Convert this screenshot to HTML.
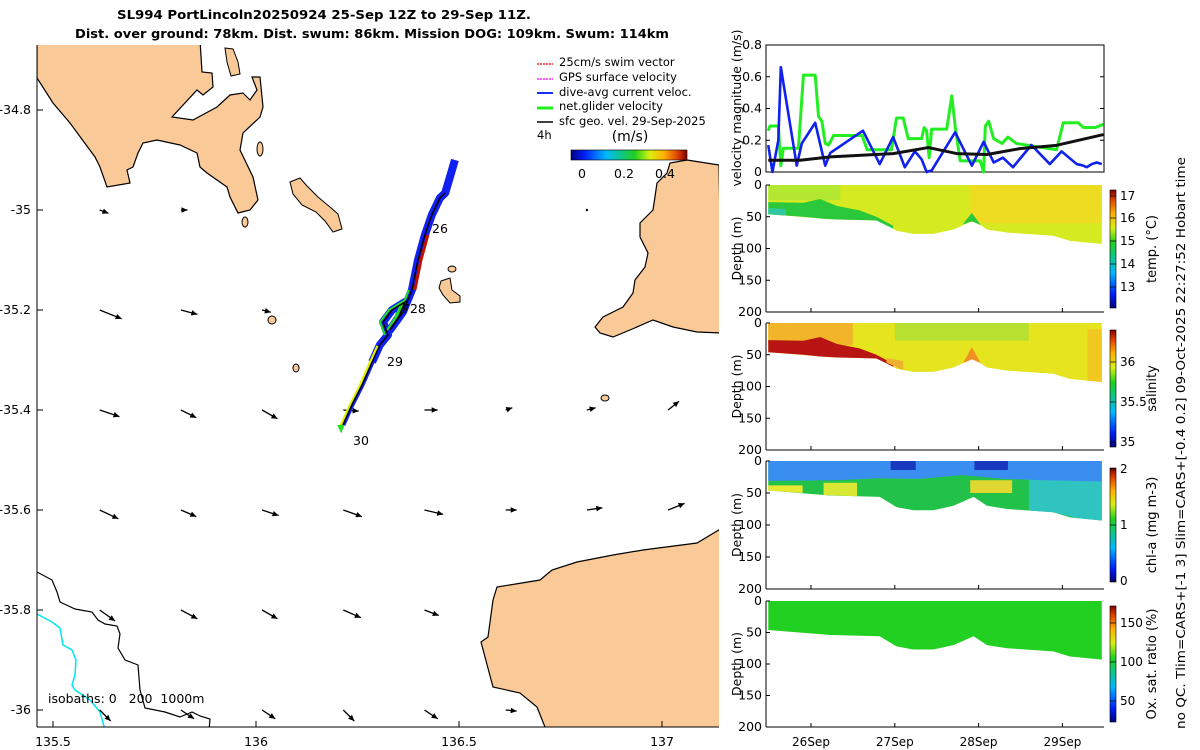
<!DOCTYPE html>
<html><head><meta charset="utf-8"><title>SL994 glider</title>
<style>
html,body{margin:0;padding:0;background:#fff;}
svg{display:block;font-family:"DejaVu Sans","Liberation Sans",sans-serif;}
text{fill:#000;}
.pre{white-space:pre;}
</style></head>
<body>
<svg id="root" width="1200" height="750" viewBox="0 0 1200 750" xmlns="http://www.w3.org/2000/svg">
<defs>
<linearGradient id="jetV" x1="0" y1="1" x2="0" y2="0">
<stop offset="0" stop-color="#00007f"/><stop offset="0.12" stop-color="#0020ff"/><stop offset="0.3" stop-color="#00b8ff"/><stop offset="0.45" stop-color="#10c878"/><stop offset="0.55" stop-color="#20d020"/><stop offset="0.68" stop-color="#d8f010"/><stop offset="0.8" stop-color="#ffb000"/><stop offset="0.92" stop-color="#e04000"/><stop offset="1" stop-color="#800000"/>
</linearGradient>
<linearGradient id="jetH" x1="0" y1="0" x2="1" y2="0">
<stop offset="0" stop-color="#00007f"/><stop offset="0.12" stop-color="#0020ff"/><stop offset="0.3" stop-color="#00b8ff"/><stop offset="0.45" stop-color="#10c878"/><stop offset="0.55" stop-color="#20d020"/><stop offset="0.68" stop-color="#d8f010"/><stop offset="0.8" stop-color="#ffb000"/><stop offset="0.92" stop-color="#e04000"/><stop offset="1" stop-color="#800000"/>
</linearGradient>
<clipPath id="mapclip"><rect x="37" y="45" width="682" height="682"/></clipPath>
</defs>

<text x="324" y="19" text-anchor="middle" font-weight="bold" font-size="12.5" textLength="414" lengthAdjust="spacingAndGlyphs">SL994 PortLincoln20250924 25-Sep 12Z to 29-Sep 11Z.</text>
<text x="372" y="38" text-anchor="middle" font-weight="bold" font-size="12.5" textLength="594" lengthAdjust="spacingAndGlyphs">Dist. over ground: 78km. Dist. swum: 86km. Mission DOG: 109km. Swum: 114km</text>

<g id="map">
<g clip-path="url(#mapclip)">
<path fill="#fac998" fill-rule="nonzero" stroke="#000" stroke-width="1.2" d="M37,40 L200,40 L202,72 L212,73 L213,87 L203,95 L197,90 L172,117 L193,120 L217,107 L230,95 L243,93 L250,100 L257,90 L252,77 L260,77 L263,107 L260,117 L243,133 L240,150 L253,177 L258,200 L250,210 L238,213 L230,197 L227,187 L207,173 L200,167 L197,153 L180,145 L157,140 L143,143 L138,153 L133,167 L127,170 L130,183 L107,187 L100,167 L95,157 L70,123 L53,103 L37,78 Z"/>
<path fill="#fac998" stroke="#000" d="M225,48 L233,49 L238,62 L240,74 L231,76 L227,62 Z"/>
<path fill="#fac998" stroke="#000" d="M290,182 L300,178 L307,186 L318,197 L330,207 L338,214 L342,229 L333,232 L325,221 L316,212 L302,205 L293,194 Z"/>
<ellipse cx="260" cy="149" rx="3" ry="7" fill="#fac998" stroke="#000"/>
<ellipse cx="245" cy="222" rx="3" ry="5" fill="#fac998" stroke="#000"/>
<ellipse cx="452" cy="269" rx="4" ry="3" fill="#fac998" stroke="#000"/>
<path fill="#fac998" stroke="#000" d="M441,281 L450,278 L452,290 L460,296 L460,302 L450,303 L443,295 L439,288 Z"/>
<ellipse cx="272" cy="320" rx="4" ry="4" fill="#fac998" stroke="#000"/>
<ellipse cx="296" cy="368" rx="3" ry="4" fill="#fac998" stroke="#000"/>
<ellipse cx="605" cy="398" rx="4" ry="3" fill="#fac998" stroke="#000"/>
<path fill="#fac998" stroke="#000" stroke-width="1.2" d="M687,160 L719,165 L722,333 L697,332 L673,327 L653,320 L630,330 L613,337 L600,333 L595,327 L603,317 L623,307 L633,293 L635,280 L645,267 L648,253 L640,237 L640,223 L653,210 L657,183 L667,173 L670,163 Z"/>
<path fill="#fac998" stroke="#000" stroke-width="1.2" d="M722,528 L697,543 L643,550 L613,555 L577,562 L552,570 L540,580 L497,587 L493,600 L488,637 L481,642 L493,687 L520,693 L537,707 L547,732 L722,732 Z"/>
<polyline fill="none" stroke="#000" stroke-width="1.2" points="37,572 52,580 57,592 60,602 75,609 92,612 98,620 105,624 117,626 120,634 118,648 125,660 138,665 140,690 145,708 165,712 180,717 192,712 200,716 210,719 209,730"/>
<polyline fill="none" stroke="#00e5ee" stroke-width="1.5" points="37,614 52,622 60,628 63,645 72,650 76,660 75,675 72,685 75,690 90,700 100,712 105,730"/>
<g id="arrows"></g>
<g id="track"></g>
</g>
<line x1="37" y1="45" x2="37" y2="727" stroke="#000"/>
<line x1="37" y1="727" x2="719" y2="727" stroke="#000"/>
<g id="mapticks" font-size="12.5"></g>
<text class="pre" xml:space="preserve" x="48" y="703" font-size="12.5">isobaths: 0   200  1000m</text>
<text x="432" y="233" font-size="12.5">26</text>
<text x="402" y="313" font-size="12.5">728</text>
<text x="387" y="366" font-size="12.5">29</text>
<text x="353" y="445" font-size="12.5">30</text>
<g font-size="11.5">
<line x1="537" y1="64" x2="553" y2="64" stroke="#ff2020" stroke-width="1.5" stroke-dasharray="2,1"/><text x="559" y="66">25cm/s swim vector</text>
<line x1="537" y1="79" x2="553" y2="79" stroke="#ff20ff" stroke-width="1.5" stroke-dasharray="2,1"/><text x="559" y="81">GPS surface velocity</text>
<line x1="537" y1="93" x2="553" y2="93" stroke="#1030ff" stroke-width="2"/><text x="559" y="96">dive-avg current veloc.</text>
<line x1="537" y1="108" x2="553" y2="108" stroke="#20f020" stroke-width="3"/><text x="559" y="110">net.glider velocity</text>
<line x1="537" y1="122" x2="553" y2="122" stroke="#000" stroke-width="1.5"/><text x="559" y="125">sfc geo. vel. 29-Sep-2025</text>
<text x="537" y="139">4h</text>
</g>
<text x="630" y="141" text-anchor="middle" font-size="14">(m/s)</text>
<rect x="571" y="150" width="116" height="10" fill="url(#jetH)" stroke="#000" stroke-width="0.6"/>
<g font-size="12.5" text-anchor="middle">
<text x="582" y="178">0</text><text x="624" y="178">0.2</text><text x="665" y="178">0.4</text>
</g>
</g>

<g id="vel"></g>
<g id="sections"></g>

<text transform="translate(1185,443) rotate(-90)" text-anchor="middle" font-size="12" textLength="572" lengthAdjust="spacingAndGlyphs">no QC. Tlim=CARS+[-1 3] Slim=CARS+[-0.4 0.2] 09-Oct-2025 22:27:52 Hobart time</text>
</svg>

<script>
// ===== velocity chart data =====
const greenT = [-0.51,-0.49,-0.39,-0.36,-0.33,-0.15,-0.09,0.05,0.09,0.13,0.17,0.21,0.27,0.61,0.67,0.96,1.02,1.10,1.16,1.32,1.35,1.38,1.41,1.44,1.62,1.68,1.72,1.78,2.02,2.06,2.08,2.12,2.18,2.28,2.35,2.45,2.93,3.01,3.19,3.25,3.39,3.49];
const greenV = [0.26,0.29,0.29,0.04,0.15,0.15,0.61,0.61,0.35,0.32,0.18,0.17,0.23,0.23,0.14,0.14,0.34,0.34,0.21,0.21,0.28,0.26,0.09,0.27,0.27,0.48,0.29,0.07,0.07,0.0,0.29,0.32,0.21,0.18,0.22,0.18,0.14,0.31,0.31,0.28,0.28,0.30];
const blueT = [-0.51,-0.46,-0.39,-0.36,-0.17,-0.11,0.05,0.17,0.23,0.62,0.82,0.98,1.12,1.24,1.32,1.38,1.44,1.72,1.92,2.06,2.18,2.29,2.41,2.63,2.85,2.99,3.17,3.25,3.29,3.35,3.41,3.47];
const blueV = [0.17,0.0,0.20,0.66,0.04,0.18,0.31,0.04,0.12,0.26,0.05,0.22,0.03,0.13,0.08,0.0,0.01,0.25,0.04,0.19,0.06,0.09,0.03,0.17,0.05,0.13,0.05,0.04,0.03,0.05,0.06,0.05];
const blackT = [-0.51,-0.13,0.23,0.98,1.40,1.74,2.10,2.49,2.93,3.49];
const blackV = [0.074,0.074,0.095,0.116,0.154,0.116,0.11,0.147,0.168,0.236];
const velTicks = [0,0.2,0.4,0.6,0.8];
const dayTicks = [0,1,2,3];
const dayLabels = ["26Sep","27Sep","28Sep","29Sep"];

// ===== section data =====
const profT = [-0.51,0.23,0.82,1.02,1.22,1.46,1.70,1.94,2.10,2.34,2.89,3.09,3.47];
const profBottom = [46,54,56,72,77,77,70,56,70,75,80,88,93];
const layerT = [-0.51,-0.09,0.11,0.31,0.58,0.78,0.98];
const layerTop = [27,28,22,33,40,50,64];
const layerBot = [46,50,54,55,56,58,71];
const bumpT = [1.82,1.92,2.02];
const bumpTop = [60,44,62];
const bumpBot = [62,58,64];
const chlBlueT = [-0.51,0.3,0.8,1.3,1.8,2.3,2.8,3.47];
const chlBlueBot = [31,30,27,28,22,28,30,32];
const depthTicks = [0,50,100,150,200];

// ===== map data =====
const arrowLon = [135.615,135.815,136.015,136.215,136.415,136.615,136.815,137.015];
const arrowLat = [-35.0,-35.2,-35.4,-35.6,-35.8,-36.0];
const arrowU = [
 [0.08,0.06,0,0,0,0,0.01,0],
 [0.20,0.15,0.08,0,0,0,0,0],
 [0.18,0.14,0.14,0.14,0.12,0.06,0.08,0.10],
 [0.17,0.14,0.15,0.17,0.17,0.10,0.14,0.15],
 [0.14,0.15,0.14,0.16,0.13,0,0,0],
 [0.10,0.12,0.12,0.10,0.12,0.10,0,0]];
const arrowV = [
 [-0.03,0,0,0,0,0,0,0],
 [-0.08,-0.04,-0.02,0,0,0,0,0],
 [-0.06,-0.07,-0.08,-0.01,0,0.02,0.02,0.08],
 [-0.08,-0.06,-0.05,-0.06,-0.04,0,0.02,0.06],
 [-0.10,-0.08,-0.08,-0.07,-0.05,0,0,0],
 [-0.10,-0.08,-0.08,-0.10,-0.08,-0.01,0,0]];
const trackLon = [136.214,136.236,136.261,136.286,136.305,136.325,136.313,136.335,136.367,136.350,136.330,136.362,136.384,136.399,136.416,136.433,136.453,136.466];
const trackLat = [-35.43,-35.39,-35.35,-35.304,-35.27,-35.25,-35.224,-35.20,-35.184,-35.216,-35.24,-35.204,-35.16,-35.10,-35.05,-35.01,-34.976,-34.966];
const lonTicks = [135.5,136,136.5,137];
const latTicks = [-34.8,-35,-35.2,-35.4,-35.6,-35.8,-36];

const NS="http://www.w3.org/2000/svg";
function mk(tag,attrs,parent){const e=document.createElementNS(NS,tag);for(const k in attrs)e.setAttribute(k,attrs[k]);parent.appendChild(e);return e;}

const tx = t => 811 + t*83.8;
const lonX = lon => 256 + (lon-136)*406;
const latY = lat => 210 + (-35-lat)*500;

const mt=document.getElementById('mapticks');
lonTicks.forEach(v=>{const x=lonX(v);
 const l=mk('line',{x1:x,y1:727,x2:x,y2:721,stroke:'#000'},mt);
 
 
 const t=mk('text',{x:x,y:746,'text-anchor':'middle'},mt);t.textContent=String(v);
 
 });
latTicks.forEach(v=>{const y=latY(v);
 const l=mk('line',{x1:37,y1:y,x2:43,y2:y,stroke:'#000'},mt);
 
 
 const t=mk('text',{x:31,y:y+4,'text-anchor':'end'},mt);t.textContent=String(v);
 
 });

const ag=document.getElementById('arrows');
arrowLat.forEach((la,i)=>arrowLon.forEach((lo,j)=>{
 const u=arrowU[i][j], v=arrowV[i][j];
 if(u===0&&v===0) return;
 const x0=lonX(lo), y0=latY(la);
 const x1=x0+u*110, y1=y0-v*110;
 const len=Math.hypot(x1-x0,y1-y0);
 const g=mk('g',{},ag);
 
 
 if(len<1.5){mk('circle',{cx:x0,cy:y0,r:1.2,fill:'#000'},g);return;}
 mk('line',{x1:x0,y1:y0,x2:x1,y2:y1,stroke:'#000','stroke-width':1.3},g);
 const ux=(x1-x0)/len, uy=(y1-y0)/len, h=6, w=2.8;
 mk('polygon',{points:`${x1},${y1} ${x1-ux*h-uy*w},${y1-uy*h+ux*w} ${x1-ux*h+uy*w},${y1-uy*h-ux*w}`,fill:'#000'},g);
}));

const tg=document.getElementById('track');
const pts=(a,b)=>trackLon.slice(a,b).map((lo,i)=>lonX(lo)+','+latY(trackLat[a+i])).join(' ');
let p=mk('polyline',{points:pts(3,18)+' '+lonX(136.49)+','+latY(-34.9),fill:'none',stroke:'#1020f0','stroke-width':8,'stroke-linejoin':'round'},tg);


p=mk('polyline',{points:pts(0,6),fill:'none',stroke:'#1020f0','stroke-width':5},tg);


p=mk('polyline',{points:pts(0,5),fill:'none',stroke:'#e0f000','stroke-width':3,transform:'translate(-2,1)'},tg);


p=mk('polyline',{points:pts(12,15),fill:'none',stroke:'#c01000','stroke-width':3,transform:'translate(3,0)'},tg);


p=mk('polyline',{points:pts(5,13),fill:'none',stroke:'#20e020','stroke-width':2,transform:'translate(-3,0)'},tg);


p=mk('polyline',{points:pts(0,18),fill:'none',stroke:'#000','stroke-width':1.5},tg);


p=mk('polygon',{points:`${lonX(136.20)},${latY(-35.43)} ${lonX(136.21)},${latY(-35.447)} ${lonX(136.218)},${latY(-35.43)}`,fill:'#20e020'},tg);



const vg=document.getElementById('vel');
const vy = v => 172 - v*(127/0.8);
let r=mk('rect',{x:766,y:45,width:338,height:127,fill:'#fff',stroke:'#000'},vg);


velTicks.forEach(v=>{const y=vy(v);
 mk('line',{x1:766,y1:y,x2:770,y2:y,stroke:'#000'},vg);
 mk('line',{x1:1104,y1:y,x2:1100,y2:y,stroke:'#000'},vg);
 const t=mk('text',{x:762,y:y+4,'text-anchor':'end','font-size':12.5},vg);t.textContent=String(v);
 
 });
let at=mk('text',{transform:'translate(741,108) rotate(-90)','text-anchor':'middle','font-size':12.5},vg);
at.textContent='velocity magnitude (m/s)';


const line=(T,V,col,w,name)=>{const l=mk('polyline',{points:T.map((t,i)=>tx(t)+','+vy(V[i])).join(' '),fill:'none',stroke:col,'stroke-width':w,'stroke-linejoin':'round'},vg);
 
 };
line(greenT,greenV,'#22ee22',3,'net-glider-velocity-line');
line(blueT,blueV,'#1020ee',2.6,'dive-avg-current-line');
line(blackT,blackV,'#111',3,'sfc-geo-velocity-line');

const sg=document.getElementById('sections');
const panels=[
 {name:'temperature',y0:185,y1:312,cb:[190,308],label:'temp. (°C)',ticks:[[17,196],[16,218],[15,241],[14,264],[13,287]]},
 {name:'salinity',y0:323,y1:450,cb:[330,447],label:'salinity',ticks:[[36,362],[35.5,402],[35,442]]},
 {name:'chlorophyll',y0:461,y1:589,cb:[468,582],label:'chl-a (mg m-3)',ticks:[[2,469],[1,525],[0,581]]},
 {name:'oxygen',y0:601,y1:727,cb:[606,722],label:'Ox. sat. ratio (%)',ticks:[[150,623],[100,662],[50,701]]}];
function interpBottom(t){for(let i=0;i<profT.length-1;i++){if(t<=profT[i+1]){const f=(t-profT[i])/(profT[i+1]-profT[i]);return profBottom[i]+f*(profBottom[i+1]-profBottom[i]);}}return profBottom[profBottom.length-1];}
function layer(g,P,T,top,bot,col,name){
 const dy=d=>P.y0+d*(P.y1-P.y0)/200;
 const up=T.map((t,i)=>tx(t)+','+dy(top[i]));
 const dn=T.map((t,i)=>tx(t)+','+dy(Math.min(bot[i],interpBottom(t)))).reverse();
 const e=mk('polygon',{points:up.concat(dn).join(' '),fill:col},g);
 
 }
const zeros=profT.map(()=>0);
const rng=(a,b,n)=>{const o=[];for(let i=0;i<n;i++)o.push(a+(b-a)*i/(n-1));return o;};
panels.forEach((P,k)=>{
 const g=mk('g',{},sg);
 
 
 const dy=d=>P.y0+d*(P.y1-P.y0)/200;
 const base=['#d6ea22','#e6e41e','#22c24a','#22d022'][k];
 layer(g,P,profT,zeros,profBottom,base,P.name+'-data-region');
 if(k===0){
  let T=rng(1.9,3.47,6);layer(g,P,T,T.map(()=>0),T.map(()=>60),'#eedc22','warm-surface');
  T=rng(-0.51,0.35,5);layer(g,P,T,T.map(()=>0),T.map(()=>24),'#b4e830','cool-surface');
  layer(g,P,layerT,layerTop,layerBot,'#2ac83a','cold-bottom-layer');
  layer(g,P,[-0.51,-0.3],[36,38],[48,48],'#30c8a0','coldest-patch');
  layer(g,P,bumpT,bumpTop,bumpBot,'#2ac83a','cold-bump');
 } else if(k===1){
  let T=rng(-0.51,0.5,5);layer(g,P,T,T.map(()=>0),T.map(()=>35),'#f2b428','salty-surface');
  T=rng(1.0,2.6,6);layer(g,P,T,T.map(()=>0),T.map(()=>28),'#b8e030','fresher-surface');
  layer(g,P,layerT,layerTop,layerBot,'#b81414','high-salinity-layer');
  layer(g,P,[0.9,1.1],[55,60],[70,75],'#f0b030','orange-transition');
  layer(g,P,bumpT,[62,38,62],[64,60,70],'#f09020','salty-bump');
  layer(g,P,[3.3,3.47],[10,10],[95,95],'#f0c820','late-orange');
 } else if(k===2){
  let T=rng(2.6,3.47,4);layer(g,P,T,T.map(()=>25),T.map(()=>95),'#30c4c0','cyan-deep');
  layer(g,P,chlBlueT,chlBlueT.map(()=>0),chlBlueBot,'#3a8ef0','low-chl-surface');
  layer(g,P,[0.95,1.25],[0,0],[14,14],'#1838c0','very-low-chl-patch');
  layer(g,P,[1.95,2.35],[0,0],[14,14],'#1838c0','very-low-chl-patch');
  layer(g,P,[-0.51,-0.1],[38,38],[48,50],'#e8e830','high-chl-patch');
  layer(g,P,[0.15,0.55],[34,34],[56,56],'#d8e834','high-chl-patch');
  layer(g,P,[1.9,2.4],[30,30],[50,50],'#e0d830','high-chl-patch');
 }
 mk('line',{x1:766,y1:P.y0,x2:766,y2:P.y1,stroke:'#000'},g);
 mk('line',{x1:766,y1:P.y1,x2:1104,y2:P.y1,stroke:'#000'},g);
 depthTicks.forEach(d=>{const y=dy(d);
  mk('line',{x1:766,y1:y,x2:770,y2:y,stroke:'#000'},g);
  const t=mk('text',{x:762,y:y+4,'text-anchor':'end','font-size':12.5},g);t.textContent=String(d);
  
  });
 const yt=mk('text',{transform:`translate(741,${(P.y0+P.y1)/2}) rotate(-90)`,'text-anchor':'middle','font-size':12.5},g);
 yt.textContent='Depth (m)';
 
 
 dayTicks.forEach(d=>{mk('line',{x1:tx(d),y1:P.y1,x2:tx(d),y2:P.y1-4,stroke:'#000'},g);});
 const cb=mk('rect',{x:1110,y:P.cb[0],width:6,height:P.cb[1]-P.cb[0],fill:'url(#jetV)',stroke:'#000','stroke-width':0.6},g);
 
 
 P.ticks.forEach(([v,y])=>{mk('line',{x1:1110,y1:y,x2:1116,y2:y,stroke:'#000','stroke-width':0.7},g);
  const t=mk('text',{x:1120,y:y+4,'font-size':12},g);t.textContent=String(v);
  
  });
 const cl=mk('text',{transform:`translate(1156,${(P.cb[0]+P.cb[1])/2}) rotate(-90)`,'text-anchor':'middle','font-size':13},g);
 cl.textContent=P.label;
 
 
});
dayTicks.forEach((d,i)=>{const t=mk('text',{x:tx(d),y:746,'text-anchor':'middle','font-size':12},sg);t.textContent=dayLabels[i];
 
 });
</script>
</body></html>
